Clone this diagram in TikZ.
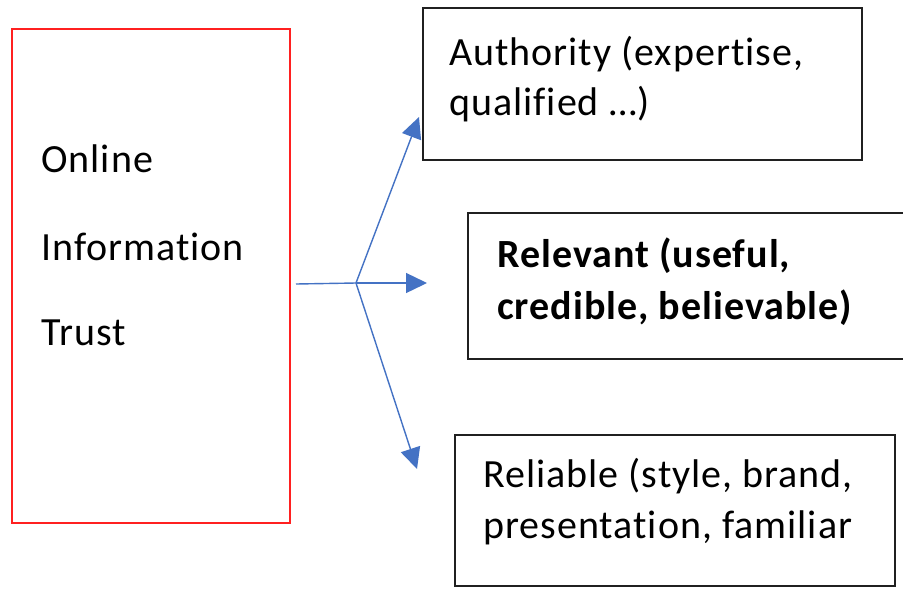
\documentclass[tikz,border=0pt]{standalone}
\usepackage{fontspec}
\setmainfont{Carlito}[Ligatures=NoCommon,LetterSpace=2.5]
\usetikzlibrary{arrows.meta}
\definecolor{arrowblue}{HTML}{4472C4}
\definecolor{boxred}{HTML}{FF2020}
\definecolor{boxgray}{HTML}{202020}
\begin{document}
\begin{tikzpicture}[x=1pt,y=-1pt,
  txt/.style={anchor=base west,inner sep=0pt,font=\fontsize{40}{48}\selectfont,text=black},
  redbox/.style={draw=boxred,line width=1.6pt,inner sep=0pt},
  blackbox/.style={draw=boxgray,line width=1.6pt,inner sep=0pt},
  conn/.style={draw=arrowblue,line width=1.4pt,-{Triangle[length=21pt,width=20pt]}},
  plain/.style={draw=arrowblue,line width=1.4pt}]
\useasboundingbox (0,0) rectangle (903,590);
\clip (0,0) rectangle (903,590);
\fill[white] (0,0) rectangle (903,590);
% boxes
\node[redbox,minimum width=278pt,minimum height=494pt] (src) at (151,276) {};
\node[blackbox,minimum width=439pt,minimum height=152pt] (auth) at (642.5,84) {};
\node[blackbox,minimum width=450pt,minimum height=146pt] (rel) at (693,286) {};
\node[blackbox,minimum width=440pt,minimum height=151pt] (reli) at (675,510.5) {};
% texts
\node[txt] (t1) at (41,172) {Online};
\node[txt] (t2) at (41,260) {Information};
\node[txt] (t3) at (41,345) {Trust};
\node[txt] (a1) at (449,65) {Authority (expertise,};
\node[txt] (a2) at (449,115) {qualified …)};
\node[txt,font=\fontsize{40}{48}\selectfont\bfseries] (r1) at (497,267) {Relevant (useful,};
\node[txt,font=\fontsize{40}{48}\selectfont\bfseries] (r2) at (497,319) {credible, believable)};
\node[txt] (l1) at (483,487) {Reliable (style, brand,};
\node[txt] (l2) at (483,538) {presentation, familiar};
% connectors
\coordinate (start) at (296,284);
\coordinate (branch) at (356,283);
\coordinate (tipA) at (419,117);
\coordinate (tipR) at (427,283);
\coordinate (tipL) at (417,469);
\draw[plain] (start) -- (branch);
\draw[conn] (branch) -- (tipA);
\draw[conn] (branch) -- (tipR);
\draw[conn] (branch) -- (tipL);
\end{tikzpicture}
\end{document}
